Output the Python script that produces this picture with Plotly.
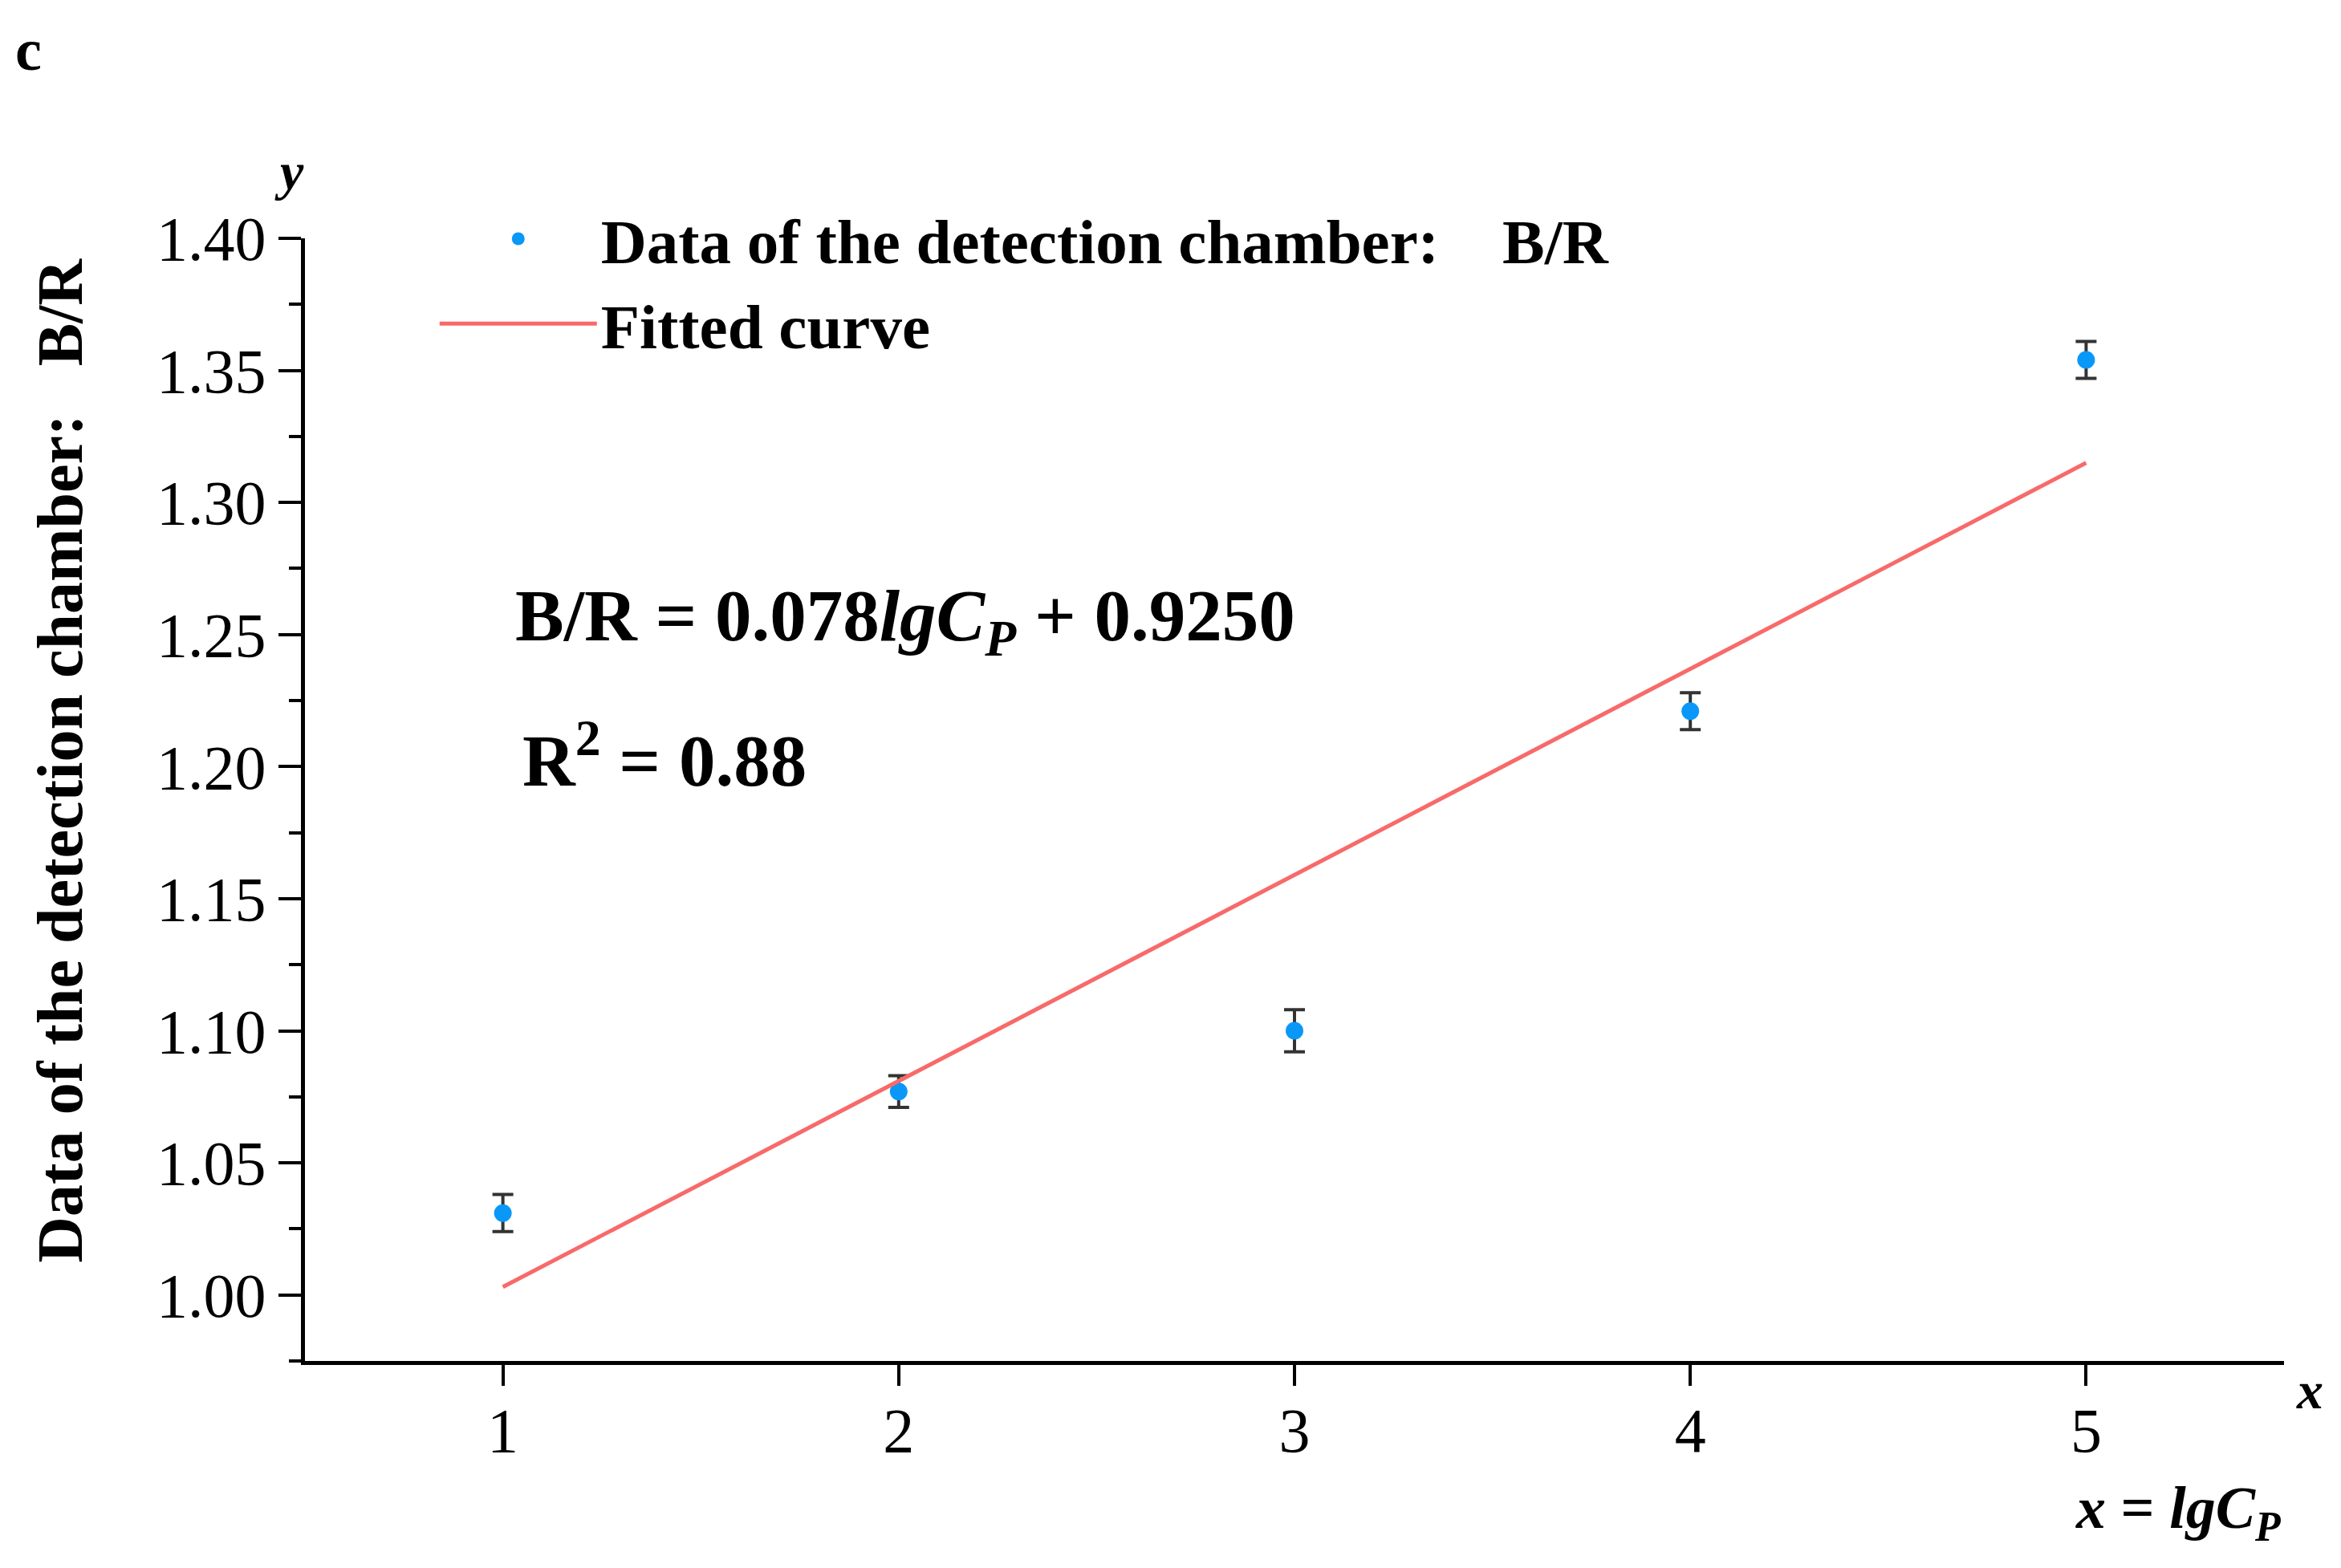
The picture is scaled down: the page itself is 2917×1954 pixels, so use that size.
import plotly.graph_objects as go

# data
x_vals = [1, 2, 3, 4, 5]
br_vals = [1.031, 1.077, 1.100, 1.221, 1.354]
br_err = [0.007, 0.006, 0.008, 0.007, 0.007]

# fitted line endpoints: B/R = 0.078 lgCp + 0.9250
fit_x = [1, 5]
fit_y = [1.003, 1.315]

y_ticks = [1.00, 1.05, 1.10, 1.15, 1.20, 1.25, 1.30, 1.35, 1.40]
x_ticks = [1, 2, 3, 4, 5]

serif = "Liberation Serif, Times New Roman, serif"
label = "Data of the detection chamber:\u00a0\u00a0\u00a0\u00a0B/R"
axis_label = "Data of the detection chamber:\u00a0\u00a0\u00a0B/R"

fig = go.Figure()

fig.add_trace(go.Scatter(
    x=x_vals, y=br_vals, mode="markers",
    name=label,
    marker=dict(color="#0A98F8", size=22),
    error_y=dict(type="data", array=br_err, color="#333333", thickness=4, width=13),
))
fig.add_trace(go.Scatter(
    x=fit_x, y=fit_y, mode="lines", name="Fitted curve",
    line=dict(color="#F86A6A", width=5),
))

# text labels
fig.add_annotation(text="<b>c</b>", xref="paper", yref="paper", x=-0.147, y=1.168,
                   xanchor="left", yanchor="middle", showarrow=False,
                   font=dict(family=serif, size=74, color="black"))
fig.add_annotation(text="<b><i>y</i></b>", xref="paper", yref="paper", x=-0.008, y=1.06,
                   xanchor="center", yanchor="middle", showarrow=False,
                   font=dict(family=serif, size=66, color="black"))
fig.add_annotation(text="<b><i>x</i></b>", xref="paper", yref="paper", x=1.013, y=-0.026,
                   xanchor="center", yanchor="middle", showarrow=False,
                   font=dict(family=serif, size=66, color="black"))
fig.add_annotation(text="<b><i>x</i> = <i>lgC</i><sub><i>P</i></sub></b>", xref="paper", yref="paper",
                   x=0.999, y=-0.135, xanchor="right", yanchor="middle", showarrow=False,
                   font=dict(family=serif, size=74, color="black"))
fig.add_annotation(text="<b>" + axis_label + "</b>", xref="paper", yref="paper",
                   x=-0.124, y=0.535, xanchor="center", yanchor="middle", textangle=-90,
                   showarrow=False, font=dict(family=serif, size=80, color="black"))
fig.add_annotation(text="<b>B/R = 0.078<i>lgC</i><sub><i>P</i></sub> + 0.9250</b>", xref="paper", yref="paper",
                   x=0.1055, y=0.659, xanchor="left", yanchor="middle", showarrow=False,
                   font=dict(family=serif, size=91, color="black"))
fig.add_annotation(text="<b>R<sup>2</sup> = 0.88</b>", xref="paper", yref="paper",
                   x=0.109, y=0.539, xanchor="left", yanchor="middle", showarrow=False,
                   font=dict(family=serif, size=91, color="black"))

fig.update_layout(
    width=2917, height=1954,
    margin=dict(l=372, r=79, t=289, b=266),
    paper_bgcolor="white", plot_bgcolor="white",
    font=dict(family=serif, size=78, color="black"),
    showlegend=True,
    legend=dict(x=0.066, y=1.041, xanchor="left", yanchor="top",
                itemwidth=196, bgcolor="rgba(0,0,0,0)",
                font=dict(family=serif, size=79, color="black", weight="bold")),
)

fig.update_xaxes(
    range=[0.5, 5.5], tickvals=x_ticks, showgrid=False, zeroline=False,
    showline=True, linecolor="black", linewidth=5,
    ticks="outside", ticklen=26, tickwidth=4, tickcolor="black",
    ticklabelstandoff=-12,
    tickfont=dict(family=serif, size=78, color="black"),
)
fig.update_yaxes(
    range=[0.975, 1.40], tickvals=y_ticks, tickformat=".2f", showgrid=False, zeroline=False,
    showline=True, linecolor="black", linewidth=5,
    ticks="outside", ticklen=28, tickwidth=4, tickcolor="black",
    minor=dict(ticks="outside", ticklen=15, tickwidth=4, tickcolor="black", dtick=0.025, tick0=0.975),
    tickfont=dict(family=serif, size=78, color="black"),
)

fig.write_html("out.html")
